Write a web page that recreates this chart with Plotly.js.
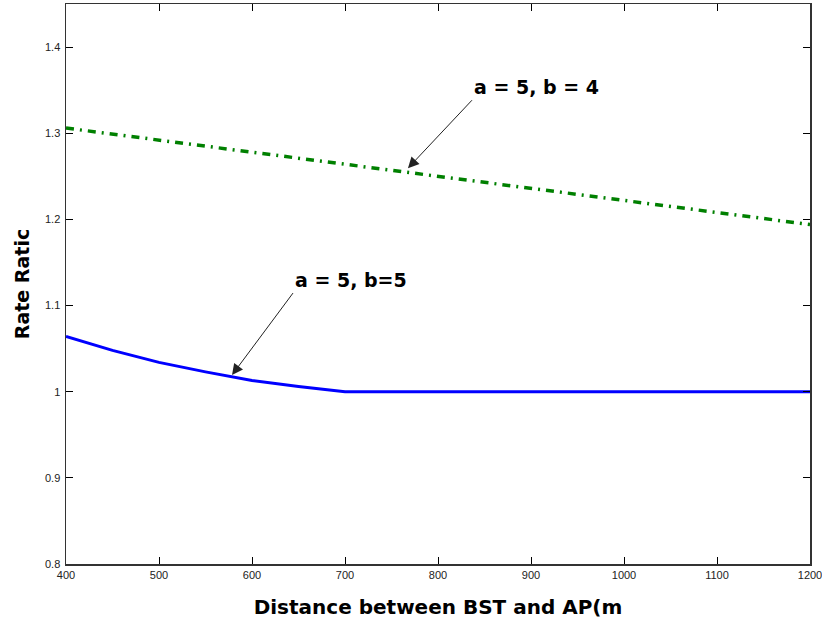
<!DOCTYPE html>
<html>
<head>
<meta charset="utf-8">
<script src="https://cdn.plot.ly/plotly-3.0.1.min.js"></script>
<style>
  html, body { margin: 0; padding: 0; background: #fff; }
  #chart { width: 822px; height: 626px; }
</style>
</head>
<body>
<div id="chart"></div>
<script>
// Distance between BST and AP (m)
const distanceB4 = [400, 500, 600, 700, 800, 900, 1000, 1100, 1200];
const ratioB4    = [1.306, 1.292, 1.278, 1.264, 1.250, 1.236, 1.222, 1.208, 1.194];

const distanceB5 = [400, 450, 500, 550, 600, 650, 700, 800, 900, 1000, 1100, 1200];
const ratioB5    = [1.064, 1.048, 1.034, 1.023, 1.013, 1.006, 1.000, 1.000, 1.000, 1.000, 1.000, 1.000];

const xTickVals = [400, 500, 600, 700, 800, 900, 1000, 1100, 1200];
const yTickVals = [0.8, 0.9, 1.0, 1.1, 1.2, 1.3, 1.4];

const labelB4 = 'a = 5, b = 4';
const labelB5 = 'a = 5, b=5';

const boldFont = { family: 'DejaVu Sans, Arial, sans-serif', size: 19, color: '#000', weight: 'bold' };
const tickFont = { family: 'Liberation Sans, Arial, sans-serif', size: 11, color: '#222' };

const traces = [
  {
    x: distanceB4, y: ratioB4, type: 'scatter', mode: 'lines',
    line: { color: '#008000', width: 3.5, dash: '8px,6px,2px,6px' },
    hoverinfo: 'x+y'
  },
  {
    x: distanceB5, y: ratioB5, type: 'scatter', mode: 'lines',
    line: { color: '#0000ff', width: 3 },
    hoverinfo: 'x+y'
  }
];

const axisCommon = {
  showgrid: false, zeroline: false,
  showline: true, linecolor: '#333', linewidth: 1.5, mirror: 'ticks',
  ticks: 'inside', ticklen: 7, tickwidth: 1, tickcolor: '#000',
  tickfont: tickFont, ticklabeloverflow: 'allow'
};

const layout = {
  width: 822, height: 626,
  margin: { l: 66, r: 12, t: 4, b: 62 },
  paper_bgcolor: '#fff', plot_bgcolor: '#fff',
  showlegend: false,
  xaxis: Object.assign({}, axisCommon, {
    range: [400, 1200], tickvals: xTickVals,
    title: { text: 'Distance between BST and AP(m', font: Object.assign({}, boldFont, { size: 20 }), standoff: 20 }
  }),
  yaxis: Object.assign({}, axisCommon, {
    range: [0.8, 1.45], tickvals: yTickVals,
    ticklabelstandoff: 2,
    title: { text: 'Rate Ratic', font: boldFont, standoff: 10 }
  }),
  annotations: [
    {
      x: 767.7, y: 1.2594, xref: 'x', yref: 'y',
      text: labelB4, font: boldFont,
      showarrow: true, arrowhead: 2, arrowsize: 2.2, arrowwidth: 1, arrowcolor: '#222',
      ax: 64, ay: -68, xanchor: 'left', yanchor: 'bottom'
    },
    {
      x: 578.5, y: 1.0193, xref: 'x', yref: 'y',
      text: labelB5, font: boldFont,
      showarrow: true, arrowhead: 2, arrowsize: 2.2, arrowwidth: 1, arrowcolor: '#222',
      ax: 61, ay: -82, xanchor: 'left', yanchor: 'bottom'
    }
  ]
};

Plotly.newPlot('chart', traces, layout, { staticPlot: true });
</script>
</body>
</html>
